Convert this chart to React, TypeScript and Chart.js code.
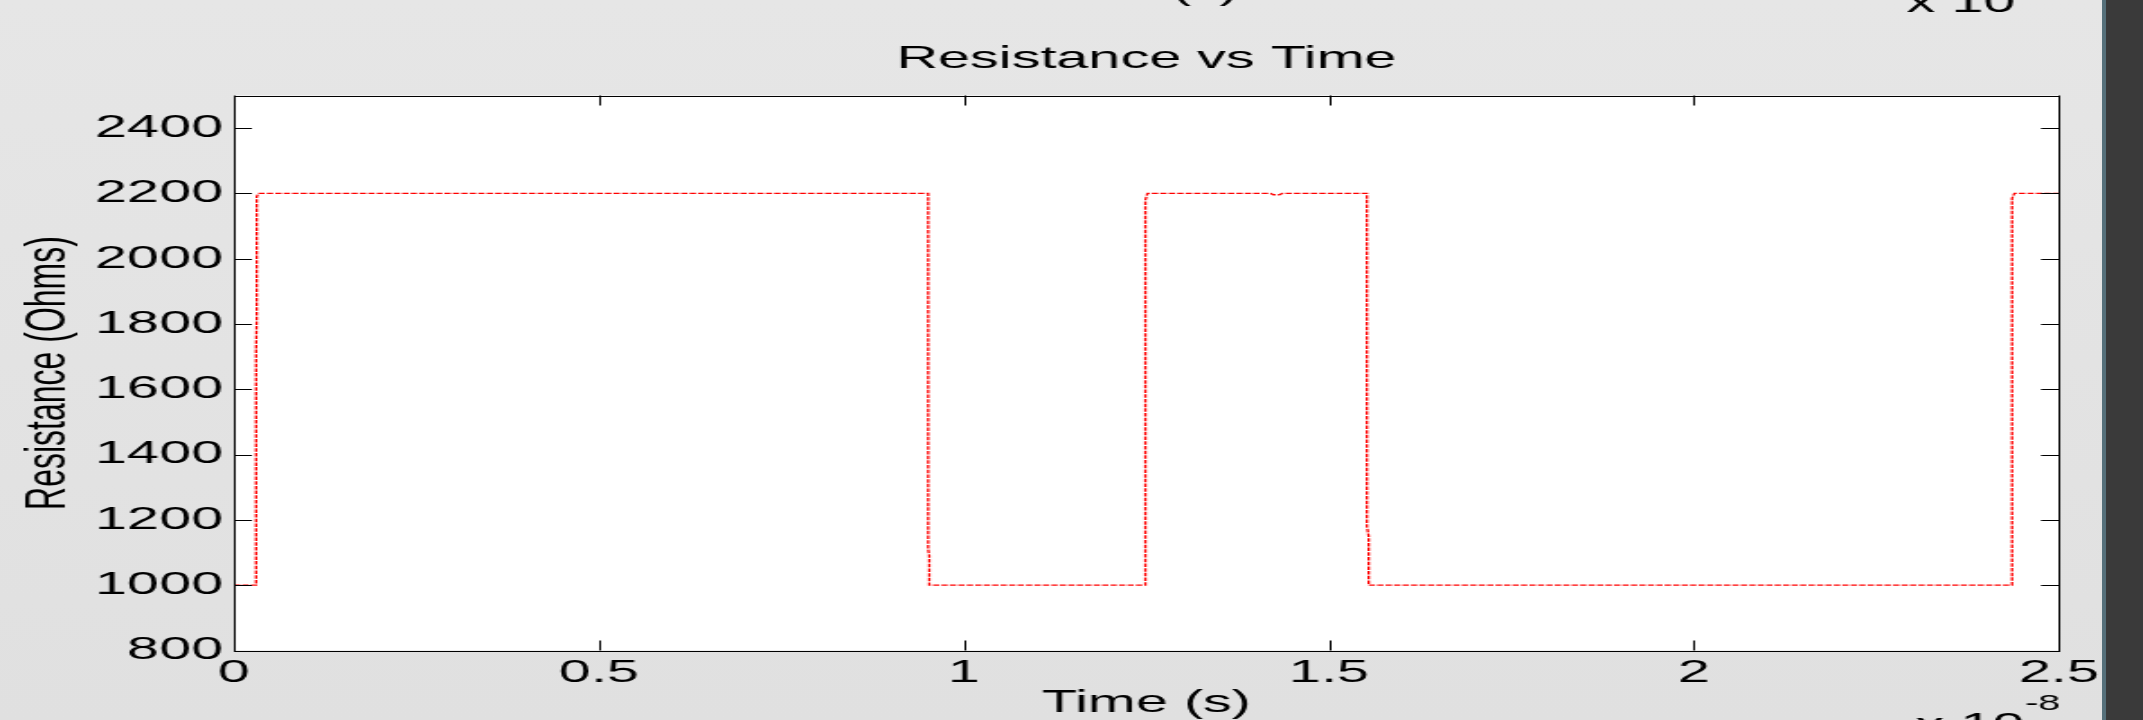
import React, { useEffect, useRef } from "react";
import { Chart, registerables } from "chart.js";

Chart.register(...registerables);

// Time in units of 1e-8 s, resistance in Ohms
const timeValues = [
  0, 0.0303, 0.0303, 0.0312, 0.0312, 0.0334,
  0.951, 0.951, 0.9525, 0.9525,
  1.2485, 1.2485, 1.2515,
  1.42, 1.424, 1.432, 1.436,
  1.552, 1.552, 1.5544, 1.5544,
  2.4357, 2.4357, 2.4389, 2.5,
];
const resistanceValues = [
  1000, 1000, 1720, 1820, 2190, 2200,
  2200, 1110, 1090, 1000,
  1000, 2180, 2200,
  2200, 2196, 2196, 2200,
  2200, 1180, 1150, 1000,
  1000, 2185, 2200, 2200,
];
const xTickValues = [0, 0.5, 1, 1.5, 2, 2.5];
const yTickValues = [800, 1000, 1200, 1400, 1600, 1800, 2000, 2200, 2400];
const xMin = 0;
const xMax = 2.5;
const yMin = 800;
const yMax = 2500;
const chartTitle = "Resistance vs Time";
const xAxisTitle = "Time (s)";
const yAxisTitle = "Resistance (Ohms)";
const exponentBase = "x 10";
const exponentPower = "-8";

const CANVAS_W = 1191;
const CANVAS_H = 720;
const STRETCH = 2143 / CANVAS_W;
const FONT = '"Liberation Sans", Arial, Helvetica, sans-serif';

const framePlugin = {
  id: "matlabFrame",
  beforeDraw(chart: any) {
    const { ctx, chartArea } = chart;
    ctx.save();
    ctx.fillStyle = "#ffffff";
    ctx.fillRect(chartArea.left, chartArea.top, chartArea.right - chartArea.left, chartArea.bottom - chartArea.top);
    ctx.restore();
  },
  afterDraw(chart: any) {
    const { ctx, chartArea, scales } = chart;
    const { left, right, top, bottom } = chartArea;
    const xs = scales.x;
    const ys = scales.y;
    ctx.save();
    ctx.strokeStyle = "#000000";
    ctx.lineWidth = 1;
    const tl = 10;
    ctx.beginPath();
    xTickValues.forEach((v) => {
      const px = Math.round(xs.getPixelForValue(v)) + 0.5;
      ctx.moveTo(px, bottom);
      ctx.lineTo(px, bottom - tl);
      ctx.moveTo(px, top);
      ctx.lineTo(px, top + tl);
    });
    yTickValues.forEach((v) => {
      const py = Math.round(ys.getPixelForValue(v)) + 0.5;
      ctx.moveTo(left, py);
      ctx.lineTo(left + tl, py);
      ctx.moveTo(right, py);
      ctx.lineTo(right - tl, py);
    });
    ctx.stroke();
    ctx.strokeRect(Math.round(left) + 0.5, Math.round(top) + 0.5, Math.round(right - left), Math.round(bottom - top));

    // exponent label of the x axis
    ctx.fillStyle = "#000000";
    ctx.textBaseline = "alphabetic";
    ctx.font = `32px ${FONT}`;
    ctx.textAlign = "right";
    ctx.fillText(exponentBase, 1125, 735);
    ctx.font = `22px ${FONT}`;
    ctx.textAlign = "left";
    ctx.fillText(exponentPower, 1125.5, 710);

    // remnants of the figure above (cut by the top edge)
    ctx.font = `32px ${FONT}`;
    ctx.textAlign = "right";
    ctx.fillText(exponentBase, 1120, 12);
    ctx.textAlign = "center";
    ctx.fillText(xAxisTitle, (left + right) / 2 - 6.7, -1);
    ctx.restore();
  },
};

export default function App() {
  const canvasRef = useRef<HTMLCanvasElement | null>(null);

  useEffect(() => {
    const canvas = canvasRef.current;
    if (!canvas) return;
    const points = timeValues.map((t, i) => ({ x: t, y: resistanceValues[i] }));
    const chart = new Chart(canvas, {
      type: "line",
      data: {
        datasets: [
          {
            data: points,
            borderColor: "#ff0000",
            borderWidth: 1.3,
            borderDash: [3.5, 1.2],
            pointRadius: 0,
            tension: 0,
            fill: false,
          },
        ],
      },
      options: {
        responsive: false,
        animation: false,
        devicePixelRatio: 1,
        layout: { padding: { left: 0, right: 46.7, top: 0, bottom: 0 } },
        plugins: {
          legend: { display: false },
          tooltip: { enabled: false },
          title: {
            display: true,
            fullSize: false,
            text: chartTitle,
            color: "#000000",
            font: { family: FONT, size: 32, weight: "normal", lineHeight: 1.2 },
            padding: { top: 40, bottom: 17.1 },
          },
        },
        scales: {
          x: {
            type: "linear",
            min: xMin,
            max: xMax,
            grid: { display: false, drawTicks: false },
            border: { display: false },
            afterBuildTicks: (s: any) => {
              s.ticks = xTickValues.map((v) => ({ value: v }));
            },
            afterFit: (s: any) => {
              s.height = 69.5;
            },
            ticks: {
              color: "#000000",
              font: { family: FONT, size: 32, lineHeight: 1.2 },
              padding: 3,
              maxRotation: 0,
              autoSkip: false,
              callback: (v: any) => String(v),
            },
            title: {
              display: true,
              text: xAxisTitle,
              color: "#000000",
              font: { family: FONT, size: 32, lineHeight: 1 },
              padding: { top: 0, bottom: 0.5 },
            },
          },
          y: {
            type: "linear",
            min: yMin,
            max: yMax,
            grid: { display: false, drawTicks: false },
            border: { display: false },
            afterBuildTicks: (s: any) => {
              s.ticks = yTickValues.map((v) => ({ value: v }));
            },
            afterFit: (s: any) => {
              s.width = 130;
            },
            ticks: {
              color: "#000000",
              font: { family: FONT, size: 32, lineHeight: 1.2 },
              padding: 6,
              autoSkip: false,
              callback: (v: any) => String(v),
            },
            title: {
              display: true,
              text: yAxisTitle,
              color: "#000000",
              font: { family: FONT, size: 32, lineHeight: 1.2 },
              padding: { top: 8, bottom: 0 },
            },
          },
        },
      },
      plugins: [framePlugin],
    });
    return () => chart.destroy();
  }, []);

  return (
    <div
      style={{
        position: "fixed",
        left: 0,
        top: 0,
        width: 2143,
        height: 720,
        overflow: "hidden",
        background: "linear-gradient(#e6e6e6, #e0e0e0)",
      }}
    >
      <div
        style={{
          position: "absolute",
          left: 0,
          top: 0,
          width: CANVAS_W,
          height: CANVAS_H,
          transform: `scaleX(${STRETCH})`,
          transformOrigin: "0 0",
        }}
      >
        <canvas ref={canvasRef} width={CANVAS_W} height={CANVAS_H} />
      </div>
      <div
        style={{
          position: "absolute",
          left: 2102,
          top: 0,
          width: 41,
          height: 720,
          background: "#3a3a3a",
          borderLeft: "4px solid #56707a",
          boxSizing: "border-box",
        }}
      />
    </div>
  );
}
